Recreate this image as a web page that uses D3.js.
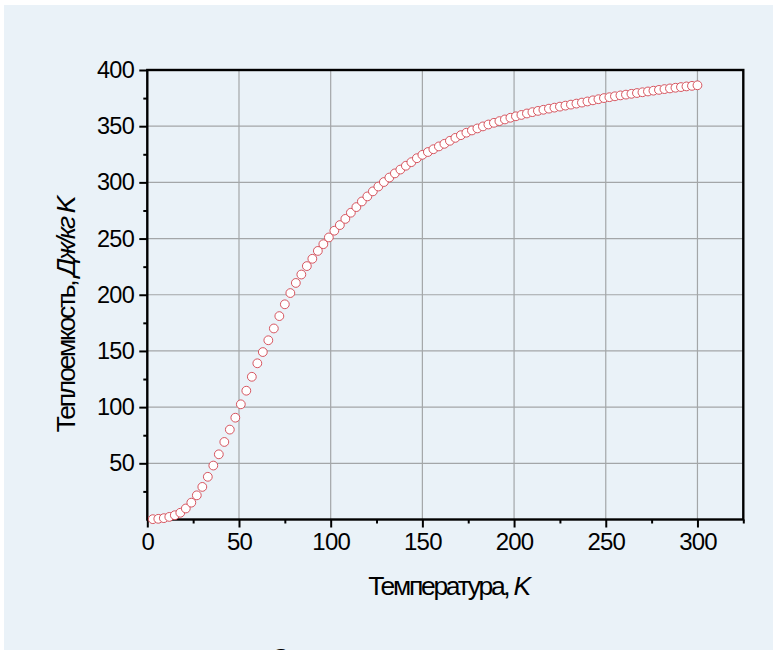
<!DOCTYPE html>
<html>
<head>
<meta charset="utf-8">
<script src="https://cdn.jsdelivr.net/npm/d3@7"></script>
<style>
  html, body { margin: 0; padding: 0; background: #ffffff; }
  svg { display: block; }
  text { font-family: "Liberation Sans", Arial, sans-serif; fill: #000; }
</style>
</head>
<body>
<svg id="chart" width="773" height="650"></svg>
<script>
// Temperature, K
const temperature = [
  3, 6, 9, 12, 15, 18, 21, 24, 27, 30,
  33, 36, 39, 42, 45, 48, 51, 54, 57, 60,
  63, 66, 69, 72, 75, 78, 81, 84, 87, 90,
  93, 96, 99, 102, 105, 108, 111, 114, 117, 120,
  123, 126, 129, 132, 135, 138, 141, 144, 147, 150,
  153, 156, 159, 162, 165, 168, 171, 174, 177, 180,
  183, 186, 189, 192, 195, 198, 201, 204, 207, 210,
  213, 216, 219, 222, 225, 228, 231, 234, 237, 240,
  243, 246, 249, 252, 255, 258, 261, 264, 267, 270,
  273, 276, 279, 282, 285, 288, 291, 294, 297, 300
];
// Heat capacity, J/(kg K)
const heatCapacity = [
  0.3, 0.6, 1.2, 2.3, 3.8, 6.0, 9.8, 15.0, 21.5, 29.0,
  38.0, 48.0, 58.0, 69.0, 80.0, 90.6, 102.5, 114.6, 127.0, 139.0,
  149.0, 159.5, 170.0, 181.0, 191.5, 201.5, 210.5, 218.0, 225.5, 232.0,
  239.0, 245.0, 251.0, 257.0, 262.0, 267.5, 273.0, 278.0, 283.0, 287.5,
  292.0, 296.3, 300.3, 304.3, 308.0, 311.4, 314.8, 318.0, 321.5, 324.5,
  327.0, 329.5, 332.0, 334.3, 337.0, 339.6, 342.0, 344.2, 346.2, 348.0,
  349.8, 351.5, 353.0, 354.5, 356.0, 357.5, 358.8, 360.0, 361.3, 362.5,
  363.6, 364.6, 365.6, 366.5, 367.4, 368.3, 369.2, 370.1, 371.0, 372.0,
  373.0, 374.0, 375.0, 375.8, 376.6, 377.4, 378.1, 378.8, 379.5, 380.2,
  380.9, 381.6, 382.3, 383.0, 383.6, 384.2, 384.8, 385.4, 385.9, 386.4
];
const xTicks = [0, 50, 100, 150, 200, 250, 300];
const xMinorTicks = [25, 75, 125, 175, 225, 275, 325];
const yTicks = [50, 100, 150, 200, 250, 300, 350, 400];
const yMinorTicks = [25, 75, 125, 175, 225, 275, 325, 375];

const svg = d3.select("#chart");

// panel background
svg.append("rect")
  .attr("x", 4).attr("y", 5)
  .attr("width", 769).attr("height", 645)
  .attr("fill", "#eaf2f8");

const plotLeft = 147.3, plotRight = 743.3, plotTop = 70, plotBottom = 519.5;
const x = d3.scaleLinear().domain([0, 325]).range([plotLeft, plotRight]);
const y = d3.scaleLinear().domain([0, 400]).range([plotBottom, plotTop]);

// grid
const grid = svg.append("g").attr("stroke", "#a3a6a8").attr("stroke-width", 1.2);
grid.selectAll("line.gx").data(xTicks.filter(d => d > 0)).join("line")
  .attr("class", "gx")
  .attr("x1", d => x(d)).attr("x2", d => x(d))
  .attr("y1", plotTop).attr("y2", plotBottom);
grid.selectAll("line.gy").data(yTicks.filter(d => d < 400)).join("line")
  .attr("class", "gy")
  .attr("x1", plotLeft).attr("x2", plotRight)
  .attr("y1", d => y(d)).attr("y2", d => y(d));

// axes: major and minor ticks
function styleAxis(g) {
  g.select(".domain").remove();
  g.selectAll(".tick line").attr("stroke", "#000").attr("stroke-width", 2);
}
const xMajor = svg.append("g").attr("transform", `translate(0,${plotBottom})`)
  .call(d3.axisBottom(x).tickValues(xTicks).tickSize(8).tickPadding(5).tickFormat(d3.format("d")));
styleAxis(xMajor);
xMajor.selectAll(".tick text").attr("font-size", 24).attr("font-family", "Liberation Sans, Arial, sans-serif").attr("letter-spacing", -0.8);

const xMinor = svg.append("g").attr("transform", `translate(0,${plotBottom})`)
  .call(d3.axisBottom(x).tickValues(xMinorTicks).tickSize(4).tickFormat(""));
styleAxis(xMinor);

const yMajor = svg.append("g").attr("transform", `translate(${plotLeft},0)`)
  .call(d3.axisLeft(y).tickValues(yTicks).tickSize(8).tickPadding(5).tickFormat(d3.format("d")));
styleAxis(yMajor);
yMajor.selectAll(".tick text").attr("font-size", 23.5).attr("font-family", "Liberation Sans, Arial, sans-serif").attr("letter-spacing", -0.6);

const yMinor = svg.append("g").attr("transform", `translate(${plotLeft},0)`)
  .call(d3.axisLeft(y).tickValues(yMinorTicks).tickSize(4).tickFormat(""));
styleAxis(yMinor);

// frame
svg.append("rect")
  .attr("x", plotLeft).attr("y", plotTop)
  .attr("width", plotRight - plotLeft).attr("height", plotBottom - plotTop)
  .attr("fill", "none").attr("stroke", "#000").attr("stroke-width", 2.4);

// data points
const pts = temperature.map((t, i) => ({ t, c: heatCapacity[i] }));
svg.append("g").selectAll("circle").data(pts).join("circle")
  .attr("cx", d => x(d.t))
  .attr("cy", d => y(d.c))
  .attr("r", 4.4)
  .attr("fill", "#ffffff")
  .attr("stroke", "#d2444f")
  .attr("stroke-width", 0.9);

// axis titles
const xt = svg.append("text")
  .attr("x", 448.5).attr("y", 595)
  .attr("text-anchor", "middle")
  .attr("font-size", 26.5)
  .attr("letter-spacing", -2.3);
xt.append("tspan").text("Температура, ");
xt.append("tspan").attr("font-style", "italic").text("K");

const yt = svg.append("text")
  .attr("transform", "translate(75,315) rotate(-90)")
  .attr("text-anchor", "middle")
  .attr("font-size", 26.5)
  .attr("letter-spacing", -2.3);
yt.append("tspan").text("Теплоемкость, ");
yt.append("tspan").attr("font-style", "italic").text("Дж/кг K");

// caption below the chart (its top edge shows at the bottom of the panel)
svg.append("text")
  .attr("x", 281).attr("y", 668)
  .attr("text-anchor", "middle")
  .attr("font-size", 28)
  .text("О");
</script>
</body>
</html>
